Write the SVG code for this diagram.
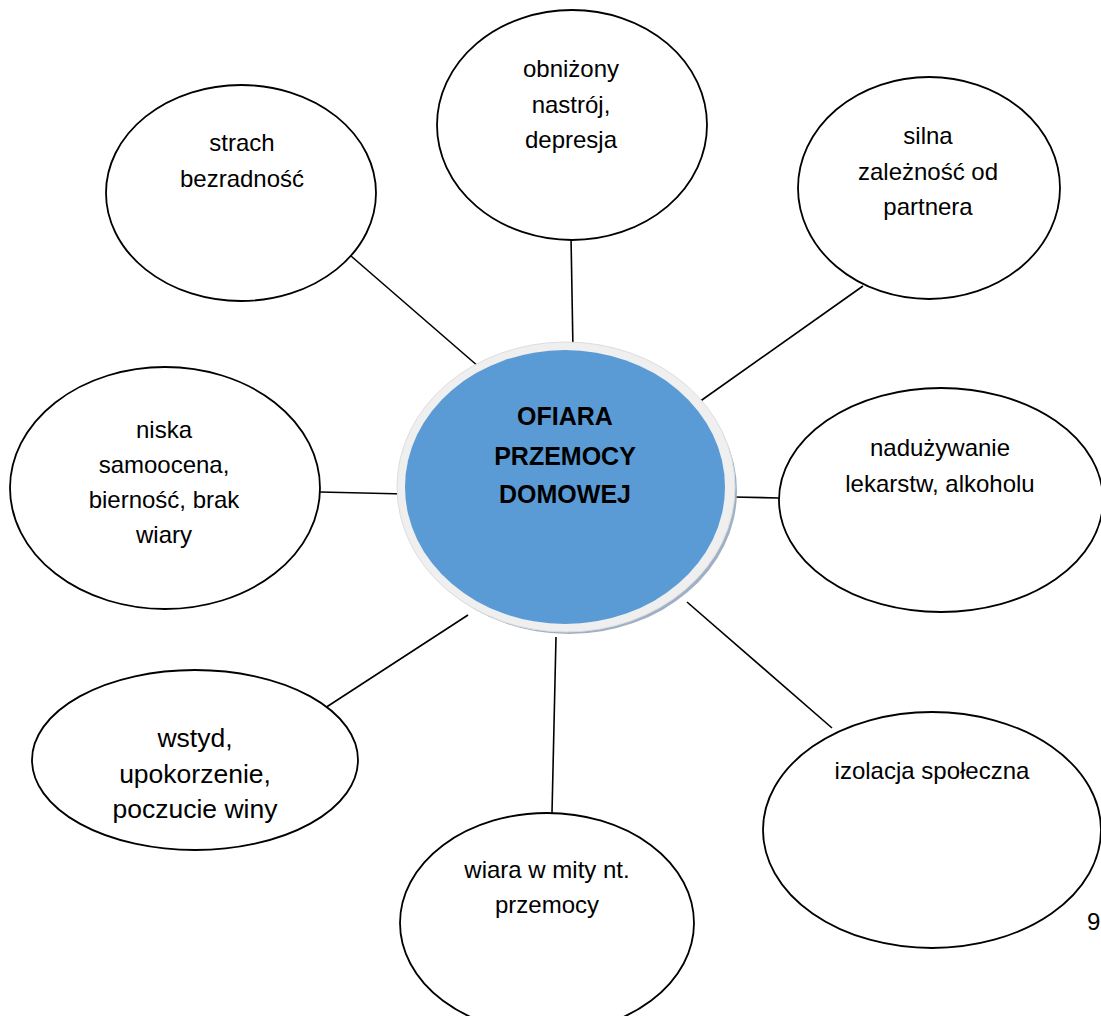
<svg xmlns="http://www.w3.org/2000/svg" width="1101" height="1016" viewBox="0 0 1101 1016">
<style>
.node{fill:#ffffff;stroke:#000000;stroke-width:1.8}
.t{font-family:"Liberation Sans",Arial,sans-serif;font-size:24px;fill:#000000;text-anchor:middle}
.tb{font-family:"Liberation Sans",Arial,sans-serif;font-size:25px;font-weight:bold;fill:#000000;text-anchor:middle}
.conn line{stroke:#000000;stroke-width:1.6}
</style>
<rect width="1101" height="1016" fill="#ffffff"/>
<g class="conn" id="connectors">
<line x1="351" y1="256" x2="479" y2="367"/>
<line x1="571" y1="236" x2="573" y2="350"/>
<line x1="863" y1="286" x2="692" y2="407"/>
<line x1="733" y1="497" x2="779" y2="498"/>
<line x1="687" y1="602" x2="832" y2="728"/>
<line x1="556" y1="637" x2="552" y2="813"/>
<line x1="325" y1="708" x2="468" y2="615"/>
<line x1="320" y1="492" x2="405" y2="494"/>
</g>
<g id="center">
<ellipse cx="569" cy="491" rx="168" ry="143" fill="#9fb0c6"/>
<ellipse cx="566" cy="487" rx="169" ry="145" fill="#efefef" stroke="#dddddd" stroke-width="1"/>
<ellipse cx="565" cy="487" rx="160" ry="137" fill="#5b9bd5"/>
<text class="tb" x="565" y="425">OFIARA</text>
<text class="tb" x="565" y="465">PRZEMOCY</text>
<text class="tb" x="565" y="503">DOMOWEJ</text>
</g>
<g id="n-strach">
<ellipse class="node" cx="241" cy="193" rx="135" ry="108"/>
<text class="t" x="242" y="151">strach</text>
<text class="t" x="242" y="187">bezradność</text>
</g>
<g id="n-obnizony">
<ellipse class="node" cx="572" cy="125" rx="135" ry="115"/>
<text class="t" x="571" y="77">obniżony</text>
<text class="t" x="571" y="113">nastrój,</text>
<text class="t" x="571" y="148">depresja</text>
</g>
<g id="n-silna">
<ellipse class="node" cx="929" cy="188" rx="131" ry="111"/>
<text class="t" x="928" y="144">silna</text>
<text class="t" x="928" y="180">zależność od</text>
<text class="t" x="928" y="215">partnera</text>
</g>
<g id="n-naduzywanie">
<ellipse class="node" cx="941" cy="500" rx="162" ry="112"/>
<text class="t" x="940" y="456">nadużywanie</text>
<text class="t" x="940" y="492">lekarstw, alkoholu</text>
</g>
<g id="n-izolacja">
<ellipse class="node" cx="932" cy="830" rx="169" ry="118"/>
<text class="t" x="932" y="779">izolacja społeczna</text>
</g>
<g id="n-wiara">
<ellipse class="node" cx="547" cy="923" rx="147" ry="110"/>
<text class="t" x="547" y="878">wiara w mity nt.</text>
<text class="t" x="547" y="913">przemocy</text>
</g>
<g id="n-wstyd">
<ellipse class="node" cx="195" cy="760" rx="163" ry="90"/>
<text class="t" style="font-size:26.5px" x="195" y="747">wstyd,</text>
<text class="t" style="font-size:26.5px" x="195" y="783">upokorzenie,</text>
<text class="t" style="font-size:26.5px" x="195" y="818">poczucie winy</text>
</g>
<g id="n-niska">
<ellipse class="node" cx="165" cy="488" rx="155" ry="121"/>
<text class="t" x="164" y="438">niska</text>
<text class="t" x="164" y="473">samoocena,</text>
<text class="t" x="164" y="508">bierność, brak</text>
<text class="t" x="164" y="543">wiary</text>
</g>
<text id="page-num" x="1087" y="930" style="font-family:'Liberation Sans',Arial,sans-serif;font-size:24px;fill:#000000">9</text>
</svg>
